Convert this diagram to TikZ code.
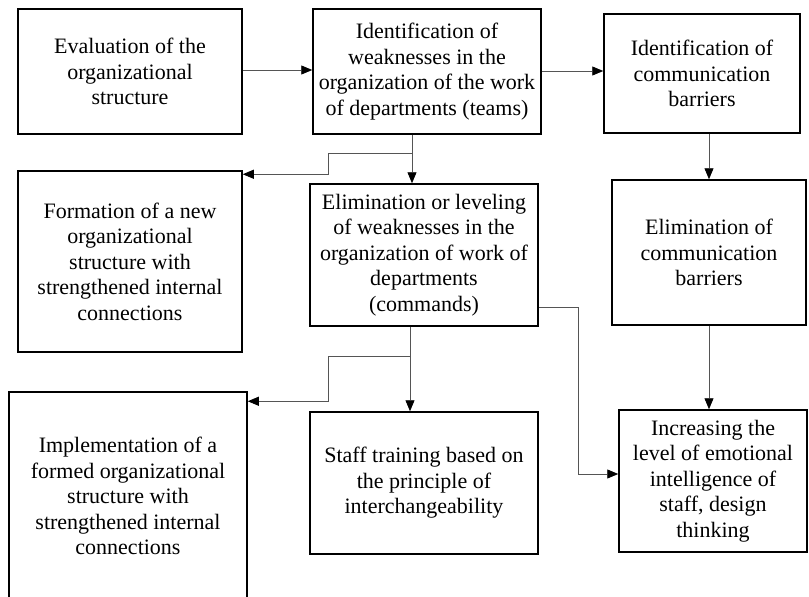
\documentclass[tikz,border=0pt]{standalone}
\usepackage{fontspec}
\setmainfont{Liberation Serif}
\usepackage{tikz}
\usetikzlibrary{positioning, arrows.meta, shapes}
\definecolor{linegray}{RGB}{85,85,85}
\tikzset{
    blk/.style={draw, rectangle, line width=1.5pt, inner sep=0pt, align=center, font=\fontsize{22}{25.5}\selectfont},
    link/.style={linegray, line width=0.9pt, -{Triangle[length=11pt, width=9pt, color=black]}},
}
\begin{document}
\begin{tikzpicture}[x=1pt, y=-1pt]
    \useasboundingbox (0,0) rectangle (809,597);
    % top row
    \node[blk, minimum width=224pt, minimum height=125pt] (ev) at (130,71.5) {Evaluation of the\\organizational\\structure};
    \node[blk, minimum width=228pt, minimum height=125pt] (wk) at (427,71.5) {Identification of\\weaknesses in the\\organization of the work\\of departments (teams)};
    \node[blk, minimum width=196pt, minimum height=119pt] (cb) at (702,73.5) {Identification of\\communication\\barriers};
    % middle row
    \node[blk, minimum width=224pt, minimum height=181pt] (fm) at (130,261.5) {Formation of a new\\organizational\\structure with\\strengthened internal\\connections};
    \node[blk, minimum width=228pt, minimum height=142pt] (el) at (424,255) {Elimination or leveling\\of weaknesses in the\\organization of work of\\departments\\(commands)};
    \node[blk, minimum width=194pt, minimum height=145pt] (ec) at (709,252.5) {Elimination of\\communication\\barriers};
    % bottom row
    \node[blk, minimum width=238pt, minimum height=208pt] (im) at (128,496) {Implementation of a\\formed organizational\\structure with\\strengthened internal\\connections};
    \node[blk, minimum width=228pt, minimum height=142pt] (st) at (424,483) {Staff training based on\\the principle of\\interchangeability};
    \node[blk, minimum width=188pt, minimum height=142pt] (ei) at (713,481) {Increasing the\\level of emotional\\intelligence of\\staff, design\\thinking};

    \coordinate (wkOut) at ([xshift=-15pt]wk.south);
    \coordinate (elOut) at ([xshift=-14pt]el.south);
    \coordinate (eiBend) at (578,474);

    \draw[link] (ev.east |- 0,70) -- (wk.west |- 0,70);
    \draw[link] (wk.east |- 0,71) -- (cb.west |- 0,71);
    \draw[link] (wkOut) -- (wkOut |- el.north);
    \draw[link] (wkOut) |- (328,153) |- ([yshift=-4pt]fm.north east);
    \draw[link] (ec.north |- cb.south) -- (ec.north);
    \draw[link] (elOut) -- (elOut |- st.north);
    \draw[link] (elOut) |- (328,356) |- ([yshift=-10pt]im.north east);
    \draw[link] ([yshift=19pt]el.south east) -| (eiBend) -- (eiBend -| ei.west);
    \draw[link] (ec.south) -- (ec.south |- ei.north);
\end{tikzpicture}
\end{document}
